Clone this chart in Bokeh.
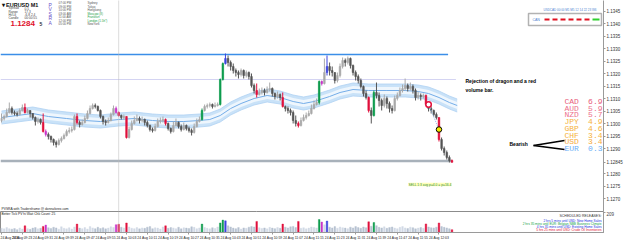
from bokeh.plotting import figure
from bokeh.models import (ColumnDataSource, Range1d, FixedTicker, Label, Span,
                          BoxAnnotation, NumeralTickFormatter)
from bokeh.layouts import column
from bokeh.embed import file_html
from bokeh.resources import INLINE
from bokeh.core.properties import value

# ---------------- DATA (EURUSD M1, 24 Aug 2016, from 09:15) ----------------
open_first = 1.13012
close = [1.13020, 1.13028, 1.13044, 1.13060, 1.13044, 1.13040, 1.13036, 1.13052, 1.13064, 1.13044,
         1.13052, 1.13040, 1.13024, 1.13008, 1.13016, 1.13004, 1.12968, 1.12956, 1.12948, 1.12936,
         1.12924, 1.12916, 1.12932, 1.12940, 1.12952, 1.12968, 1.12972, 1.12976, 1.13028, 1.13004,
         1.12996, 1.13004, 1.13020, 1.13040, 1.13060, 1.13072, 1.13068, 1.13052, 1.13028, 1.13008,
         1.13004, 1.13012, 1.13036, 1.13060, 1.13044, 1.13032, 1.13024, 1.13028, 1.12944, 1.12976,
         1.13000, 1.13012, 1.13020, 1.13012, 1.13016, 1.13004, 1.12992, 1.12976, 1.12972, 1.12988,
         1.13008, 1.13012, 1.13016, 1.13000, 1.12980, 1.12968, 1.12992, 1.13004, 1.12988, 1.12976,
         1.12992, 1.12980, 1.12972, 1.12964, 1.12988, 1.13008, 1.13016, 1.13052, 1.13068, 1.13072,
         1.13076, 1.13068, 1.13072, 1.13076, 1.13176, 1.13240, 1.13260, 1.13244, 1.13228, 1.13212,
         1.13204, 1.13196, 1.13212, 1.13192, 1.13204, 1.13188, 1.13152, 1.13132, 1.13116, 1.13124,
         1.13132, 1.13124, 1.13136, 1.13140, 1.13120, 1.13108, 1.13116, 1.13104, 1.13068, 1.13060,
         1.13052, 1.13044, 1.13012, 1.13000, 1.12992, 1.13012, 1.13024, 1.13032, 1.13040, 1.13060,
         1.13076, 1.13084, 1.13168, 1.13160, 1.13204, 1.13228, 1.13212, 1.13204, 1.13172, 1.13192,
         1.13228, 1.13252, 1.13244, 1.13260, 1.13232, 1.13204, 1.13188, 1.13172, 1.13148, 1.13120,
         1.13104, 1.13052, 1.13032, 1.13124, 1.13112, 1.13092, 1.13072, 1.13100, 1.13080, 1.13060,
         1.13052, 1.13100, 1.13112, 1.13132, 1.13140, 1.13152, 1.13140, 1.13148, 1.13132, 1.13104,
         1.13112, 1.13108, 1.13112, 1.13076, 1.13060, 1.13052, 1.13036, 1.13024, 1.12936, 1.12900,
         1.12884, 1.12864, 1.12852, 1.12845]
high = [1.13040, 1.13036, 1.13060, 1.13084, 1.13068, 1.13052, 1.13048, 1.13060, 1.13076, 1.13080,
        1.13060, 1.13052, 1.13040, 1.13028, 1.13024, 1.13020, 1.13040, 1.12976, 1.12964, 1.12952,
        1.12940, 1.12932, 1.12940, 1.12948, 1.12960, 1.12976, 1.12984, 1.12988, 1.13036, 1.13040,
        1.13012, 1.13016, 1.13032, 1.13052, 1.13072, 1.13080, 1.13080, 1.13072, 1.13056, 1.13032,
        1.13016, 1.13024, 1.13044, 1.13072, 1.13068, 1.13048, 1.13036, 1.13036, 1.13028, 1.12988,
        1.13012, 1.13028, 1.13036, 1.13028, 1.13028, 1.13020, 1.13012, 1.12996, 1.12984, 1.13000,
        1.13020, 1.13024, 1.13028, 1.13020, 1.13004, 1.12984, 1.13008, 1.13020, 1.13008, 1.12996,
        1.13004, 1.12996, 1.12988, 1.12980, 1.13000, 1.13020, 1.13028, 1.13060, 1.13076, 1.13080,
        1.13084, 1.13080, 1.13084, 1.13084, 1.13180, 1.13244, 1.13280, 1.13272, 1.13252, 1.13240,
        1.13220, 1.13212, 1.13220, 1.13216, 1.13212, 1.13208, 1.13200, 1.13160, 1.13160, 1.13140,
        1.13144, 1.13140, 1.13148, 1.13164, 1.13144, 1.13124, 1.13128, 1.13120, 1.13124, 1.13072,
        1.13068, 1.13060, 1.13052, 1.13032, 1.13008, 1.13024, 1.13036, 1.13044, 1.13052, 1.13076,
        1.13092, 1.13100, 1.13172, 1.13172, 1.13260, 1.13272, 1.13244, 1.13228, 1.13204, 1.13204,
        1.13240, 1.13264, 1.13260, 1.13268, 1.13264, 1.13236, 1.13212, 1.13196, 1.13180, 1.13152,
        1.13132, 1.13108, 1.13064, 1.13132, 1.13164, 1.13124, 1.13100, 1.13116, 1.13108, 1.13088,
        1.13072, 1.13112, 1.13124, 1.13144, 1.13156, 1.13180, 1.13160, 1.13164, 1.13156, 1.13140,
        1.13128, 1.13120, 1.13120, 1.13116, 1.13076, 1.13068, 1.13056, 1.13044, 1.13024, 1.12944,
        1.12908, 1.12892, 1.12872, 1.12856]
low = [1.13004, 1.13012, 1.13024, 1.13040, 1.13036, 1.13032, 1.13028, 1.13032, 1.13048, 1.13040,
       1.13040, 1.13024, 1.13016, 1.12992, 1.13000, 1.12996, 1.12964, 1.12948, 1.12936, 1.12924,
       1.12912, 1.12904, 1.12912, 1.12924, 1.12936, 1.12948, 1.12960, 1.12964, 1.12972, 1.12996,
       1.12984, 1.12992, 1.13000, 1.13016, 1.13036, 1.13056, 1.13060, 1.13048, 1.13020, 1.12996,
       1.12992, 1.13000, 1.13008, 1.13032, 1.13040, 1.13028, 1.13016, 1.13016, 1.12940, 1.12940,
       1.12972, 1.12996, 1.13008, 1.13000, 1.13004, 1.12992, 1.12984, 1.12968, 1.12964, 1.12968,
       1.12984, 1.13000, 1.13004, 1.12992, 1.12972, 1.12960, 1.12964, 1.12988, 1.12980, 1.12968,
       1.12972, 1.12972, 1.12964, 1.12952, 1.12960, 1.12984, 1.13004, 1.13012, 1.13048, 1.13060,
       1.13064, 1.13060, 1.13064, 1.13068, 1.13072, 1.13172, 1.13236, 1.13228, 1.13212, 1.13200,
       1.13188, 1.13180, 1.13188, 1.13180, 1.13184, 1.13176, 1.13144, 1.13120, 1.13104, 1.13112,
       1.13116, 1.13112, 1.13120, 1.13128, 1.13108, 1.13096, 1.13100, 1.13092, 1.13064, 1.13048,
       1.13040, 1.13032, 1.13000, 1.12988, 1.12984, 1.12988, 1.13008, 1.13016, 1.13028, 1.13036,
       1.13056, 1.13072, 1.13076, 1.13152, 1.13156, 1.13192, 1.13192, 1.13188, 1.13160, 1.13164,
       1.13184, 1.13220, 1.13228, 1.13236, 1.13220, 1.13192, 1.13172, 1.13160, 1.13140, 1.13108,
       1.13096, 1.13044, 1.13000, 1.13028, 1.13100, 1.13068, 1.13052, 1.13064, 1.13060, 1.13044,
       1.13040, 1.13048, 1.13092, 1.13108, 1.13124, 1.13132, 1.13128, 1.13132, 1.13120, 1.13092,
       1.13096, 1.13092, 1.13100, 1.13072, 1.13048, 1.13040, 1.13028, 1.13016, 1.12928, 1.12892,
       1.12872, 1.12856, 1.12844, 1.12844]
# tick volume per bar
volume = [45, 38, 52, 40, 35, 42, 30, 48, 36, 70,
          40, 33, 46, 52, 38, 44, 64, 78, 50, 42,
          55, 48, 35, 60, 44, 38, 50, 36, 58, 88,
          46, 40, 52, 36, 62, 48, 40, 55, 42, 50,
          38, 46, 60, 52, 82, 86, 55, 48, 100, 58,
          45, 40, 52, 38, 48, 44, 56, 62, 40, 50,
          46, 36, 58, 70, 44, 52, 48, 40, 55, 38,
          50, 46, 42, 60, 54, 40, 48, 88, 52, 44,
          38, 50, 42, 58, 100, 130, 122, 70, 58, 46,
          40, 52, 36, 48, 44, 56, 62, 58, 116, 50,
          42, 48, 38, 54, 46, 40, 52, 44, 88, 56,
          48, 60, 64, 52, 116, 44, 50, 38, 46, 58,
          52, 48, 136, 110, 80, 120, 56, 48, 62, 44,
          58, 50, 46, 40, 56, 48, 62, 52, 44, 58,
          50, 112, 66, 105, 72, 54, 48, 60, 44, 52,
          58, 46, 40, 54, 62, 48, 42, 56, 50, 38,
          46, 52, 44, 90, 58, 50, 48, 56, 100, 62,
          54, 48, 40, 30]
# PVSRA volume classes (bar indexes)
climax_bear = [9, 16, 29, 45, 48, 63, 98, 108, 114, 141, 163, 168, 173]
climax_bull = [77, 84, 85, 122, 143]
above_avg_bear = [17, 44, 123]
above_avg_bull = [86, 125]
# moving-average band (bar, centre price)
band_bar = [0, 6, 12, 18, 25, 32, 38, 45, 51, 58, 64, 70, 76, 80, 84, 88, 92, 97, 102, 107,
            112, 116, 120, 126, 130, 135, 141, 148, 155, 160, 164, 168, 172, 175]
band_mid = [1.13024, 1.13032, 1.13040, 1.13028, 1.13020, 1.13012, 1.13008, 1.13016, 1.13020, 1.13012,
            1.13008, 1.13008, 1.13012, 1.13016, 1.13032, 1.13060, 1.13080, 1.13100, 1.13112, 1.13104,
            1.13088, 1.13080, 1.13088, 1.13108, 1.13124, 1.13136, 1.13132, 1.13132, 1.13132, 1.13128,
            1.13120, 1.13104, 1.13084, 1.13072]
# horizontal levels: price, last bar
level_price = [1.13276, 1.13176, 1.12850]
level_end = [171.5, 174.5, 173.0]
# signal markers
signal_bar = [164, 168]
signal_price = [1.13076, 1.12976]
# price axis ticks
price_ticks = [1.1270, 1.1275, 1.1280, 1.1290, 1.1295, 1.1300, 1.1305,
               1.1310, 1.1315, 1.1320, 1.1325, 1.1330, 1.1335, 1.1340, 1.1345]
# time axis
time_tick_bars = [0, 8, 16, 24, 32, 40, 48, 56, 64, 72, 80, 88, 96, 104, 112, 120, 128, 136, 144, 152, 160, 168]
time_labels = ["24 Aug 2016", "24 Aug 09:23", "24 Aug 09:31", "24 Aug 09:39", "24 Aug 09:47",
               "24 Aug 09:55", "24 Aug 10:03", "24 Aug 10:11", "24 Aug 10:19", "24 Aug 10:27",
               "24 Aug 10:35", "24 Aug 10:43", "24 Aug 10:51", "24 Aug 10:59", "24 Aug 11:07",
               "24 Aug 11:15", "24 Aug 11:23", "24 Aug 11:31", "24 Aug 11:39", "24 Aug 11:47",
               "24 Aug 11:55", "24 Aug 12:03"]
session_start_bar = 45
# currency strength
currencies = ["CAD", "AUD", "NZD", "JPY", "GBP", "CHF", "USD", "EUR"]
strength = ["6.9", "5.9", "5.7", "4.9", "4.6", "3.4", "3.4", "0.3"]
cur_colors = ["#e8607c", "#ec6f8a", "#ec6f8a", "#f5b23c", "#f5b23c", "#f5b23c", "#f5aa3c", "#6aaef5"]
# sessions
sess_times = ["07:00 PM", "09:00 PM", "10:00 PM", "03:00 AM", "11:00 AM", "12:00 PM", "05:00 PM"]
sess_names = ["Sydney", "Tokyo", "Hongkong", "Moscow (8)", "Frankfurt", "London (1.5h*)", "NewYork"]
sess_colors = ["#555555", "#555555", "#555555", "#22a044", "#22a044", "#22a044", "#555555"]
releases = ["2 hrs 5 mins until USD: New Home Sales",
            "2 hrs 35 mins until EUR: Belgian NBB Business Climate",
            "4 hrs 35 mins until USD: Existing Home Sales",
            "5 hrs 25 mins until USD: Crude Oil Inventories"]
release_colors = ["#2030e0", "#10a040", "#2030e0", "#e01030"]

# ---------------- LAYOUT CONSTANTS ----------------
PX_PER_BAR = 2.604
X0_PX = 1.0
Y_TOP = 1.13492
PRICE_PER_PX = 0.00004
W = 625
RB = 22
FR = W - RB  # right edge of the plotting frame, px
MAIN_H = 211
VOL_H = 31
VOL_FRAME = 24
VOL_MAX = 220.0
FONT = "Liberation Sans"
GFONT = value("Liberation Sans")


def bx(px):
    return (px - X0_PX) / PX_PER_BAR


def py(px):
    return Y_TOP - PRICE_PER_PX * px


def vy(px):  # px measured from top of the volume panel
    return (VOL_FRAME - px) / VOL_FRAME * VOL_MAX


x_range = Range1d(bx(0), bx(FR))

# ---------------- MAIN PRICE PANEL ----------------
p = figure(width=W, height=MAIN_H, x_range=x_range,
           y_range=Range1d(Y_TOP - MAIN_H * PRICE_PER_PX, Y_TOP),
           output_backend="svg", toolbar_location=None, x_axis_location=None,
           y_axis_location="right", min_border_left=0, min_border_top=0,
           min_border_bottom=0, min_border_right=RB)
p.grid.visible = False
p.outline_line_color = None
p.background_fill_color = "white"
p.border_fill_color = "white"
ya = p.yaxis[0]
ya.ticker = FixedTicker(ticks=price_ticks + [close[-1]])
ya.formatter = NumeralTickFormatter(format="0.0000")
ya.major_label_overrides = {close[-1]: f"{close[-1]:.5f}"}
ya.major_label_text_font_size = "4.5px"
ya.major_label_text_font = FONT
ya.major_label_text_color = "#333333"
ya.major_label_standoff = 1
ya.major_tick_out = 2
ya.major_tick_in = 0
ya.minor_tick_out = 0
ya.minor_tick_in = 0
ya.axis_line_color = "#9a9a9a"
ya.major_tick_line_color = "#9a9a9a"

n = len(close)
idx = list(range(n))
opens = [open_first] + close[:-1]
special = {}
for i in climax_bear:
    special[i] = "#e0103c"
for i in climax_bull:
    special[i] = "#0e9c4e"
for i in above_avg_bear:
    special[i] = "#c935c9"
for i in above_avg_bull:
    special[i] = "#3d44de"
ccol, vcol = [], []
for i in idx:
    up = close[i] >= opens[i]
    ccol.append(special.get(i, "#a9a9a9" if up else "#555555"))
    vcol.append(special.get(i, "#d2dae6" if up else "#b7c2d1"))

# MA band
band_up = [m + 6.5 * PRICE_PER_PX for m in band_mid]
band_dn = [m - 6.5 * PRICE_PER_PX for m in band_mid]
in_up = [m + 3.5 * PRICE_PER_PX for m in band_mid]
in_dn = [m - 3.5 * PRICE_PER_PX for m in band_mid]
p.varea(x=band_bar, y1=band_dn, y2=band_up, fill_color="#c9e2f8")
p.varea(x=band_bar, y1=in_dn, y2=in_up, fill_color="#eef6fd")
p.line(band_bar, band_up, line_color="#b0d2f3", line_width=0.8)
p.line(band_bar, band_dn, line_color="#b0d2f3", line_width=0.8)
p.line(band_bar, band_mid, line_color="#74ade8", line_width=1)

# horizontal levels
lvl_colors = ["#3b8ee8", "#d4d4f2", "#a8b1ba"]
lvl_widths = [1.5, 1, 2.5]
p.segment(x0=[bx(0)] * 3, x1=level_end, y0=level_price, y1=level_price,
          line_color=lvl_colors, line_width=lvl_widths)

p.add_layout(Span(location=session_start_bar, dimension="height", line_color="#b8b8b8",
                  line_dash="1 1", line_width=1))

# candles
src = ColumnDataSource(dict(x=idx, o=opens, h=high, l=low, c=close,
                            top=[max(a, b) for a, b in zip(opens, close)],
                            bot=[min(a, b) for a, b in zip(opens, close)],
                            col=ccol))
p.segment(x0="x", x1="x", y0="l", y1="h", line_color="col", line_width=1, source=src)
p.vbar(x="x", top="top", bottom="bot", width=0.62, fill_color="col", line_color="col",
       line_width=0.6, source=src)

# signals
p.line(signal_bar, signal_price, line_color="#8fbbe8", line_dash="1 1", line_width=1)
p.scatter([signal_bar[0]], [signal_price[0]], marker="circle", size=5.5, fill_color="white",
          line_color="#e0103c", line_width=1.5)
p.scatter([signal_bar[1]], [signal_price[1]], marker="circle", size=5.5, fill_color="#f6ea00",
          line_color="black", line_width=1)

# info panel (top-left)
p.add_layout(Label(x=bx(1), y=py(4), text="\u25be EURUSD  M1", text_font=FONT,
                   text_font_size="5.5px", text_font_style="bold", text_color="#111111",
                   text_baseline="middle"))
info_keys = ["Spread", "Range", "Hi/Lo", "Candle"]
info_vals = ["0.5", "17.3", "-6.8  2.4", "00:00:55"]
for k, (a, b) in enumerate(zip(info_keys, info_vals)):
    p.add_layout(Label(x=bx(8), y=py(7.5 + 3.3 * k), text=a, text_font=FONT, text_font_size="3.2px",
                       text_color="#444444", text_baseline="middle"))
    p.add_layout(Label(x=bx(24), y=py(7.5 + 3.3 * k), text=b, text_font=FONT, text_font_size="3.2px",
                       text_color="#444444", text_baseline="middle"))
p.add_layout(Label(x=bx(10), y=py(22.5), text="1.1284", text_font=FONT, text_font_size="8px",
                   text_font_style="bold", text_color="#e0102a", text_baseline="middle"))
p.add_layout(Label(x=bx(39), y=py(23), text="5", text_font=FONT, text_font_size="5px",
                   text_font_style="bold", text_color="#333333", text_baseline="middle"))
for k, ch in enumerate("PVSRA"):
    p.add_layout(Label(x=bx(48), y=py(4 + 4.6 * k), text=ch, text_font=FONT, text_font_size="5px",
                       text_color="#6a4fc8", text_baseline="middle"))
sess_src = ColumnDataSource(dict(
    xt=[bx(58)] * len(sess_names), xn=[bx(87)] * len(sess_names),
    y=[py(2.5 + 3.5 * k) for k in range(len(sess_names))],
    t=sess_times, nme=sess_names, c=sess_colors))
p.text(x="xt", y="y", text="t", source=sess_src, text_font=GFONT, text_font_size="3px",
       text_color="#555555", text_baseline="middle")
p.text(x="xn", y="y", text="nme", source=sess_src, text_font=GFONT, text_font_size="3px",
       text_color="c", text_baseline="middle")

# top-right legend box
p.add_layout(Label(x=bx(543), y=py(9), text="USDCAD 00:00 M1 M5 12 14 22 23 W6", text_font=FONT,
                   text_font_size="3px", text_color="#4a7fd0", text_baseline="middle"))
p.add_layout(BoxAnnotation(left=bx(528), right=bx(FR - 2), top=py(13), bottom=py(25),
                           fill_alpha=0, line_color="black", line_width=1.5))
p.add_layout(Label(x=bx(532), y=py(19), text="CAN", text_font=FONT, text_font_size="3.5px",
                   text_color="#4a7fd0", text_baseline="middle"))
p.segment(x0=[bx(544)], x1=[bx(590)], y0=[py(19)], y1=[py(19)], line_color="#e01020",
          line_width=2, line_dash="5 3")
p.segment(x0=[bx(592)], x1=[bx(599)], y0=[py(19)], y1=[py(19)], line_color="#30d030", line_width=2)

# annotations
p.add_layout(Label(x=bx(465), y=py(80), text="Rejection of dragon and a red", text_font=FONT,
                   text_font_size="5px", text_font_style="bold", text_color="black",
                   text_baseline="middle"))
p.add_layout(Label(x=bx(465), y=py(89), text="volume bar.", text_font=FONT,
                   text_font_size="5px", text_font_style="bold", text_color="black",
                   text_baseline="middle"))
p.add_layout(Label(x=bx(509), y=py(143.5), text="Bearish", text_font=FONT,
                   text_font_size="5px", text_font_style="bold", text_color="black",
                   text_baseline="middle"))
p.segment(x0=[bx(533), bx(533)], x1=[bx(564), bx(564)], y0=[py(145), py(145)],
          y1=[py(140), py(149)], line_color="black", line_width=1.6)

cur_src = ColumnDataSource(dict(
    xc=[bx(564)] * len(currencies), xv=[bx(FR - 1)] * len(currencies),
    y=[py(101 + 6.7 * k) for k in range(len(currencies))],
    cur=currencies, val=strength, col=cur_colors))
p.text(x="xc", y="y", text="cur", source=cur_src, text_font=value("Liberation Mono"),
       text_font_size="8px", text_color="col", text_baseline="middle")
p.text(x="xv", y="y", text="val", source=cur_src, text_font=value("Liberation Mono"),
       text_font_size="8px", text_color="col", text_baseline="middle", text_align="right")

p.add_layout(Label(x=bx(408), y=py(184), text="SELL 1:3 avg p=4.0 = p=16.4", text_font=FONT,
                   text_font_size="3.3px", text_color="#2a8a3a", background_fill_color="#ffffb8",
                   text_baseline="middle"))
p.add_layout(Label(x=bx(1), y=py(208), text="PVSRA with Tradersframe @ donnaforex.com",
                   text_font=FONT, text_font_size="3.3px", text_color="#222222",
                   text_baseline="middle"))

# ---------------- VOLUME PANEL ----------------
v = figure(width=W, height=VOL_H, x_range=x_range, y_range=Range1d(0, VOL_MAX),
           output_backend="svg", toolbar_location=None, y_axis_location="right",
           min_border_left=0, min_border_top=0, min_border_bottom=VOL_H - VOL_FRAME,
           min_border_right=RB)
v.grid.visible = False
v.outline_line_color = "#8c8c8c"
v.background_fill_color = "white"
v.border_fill_color = "white"
v.vbar(x=idx, top=volume, width=0.62, fill_color=vcol, line_color=vcol, line_width=0.4)
v.add_layout(Span(location=session_start_bar, dimension="height", line_color="#b8b8b8",
                  line_dash="1 1", line_width=1))
xa = v.xaxis[0]
xa.ticker = FixedTicker(ticks=time_tick_bars)
xa.major_label_overrides = {b: t for b, t in zip(time_tick_bars, time_labels)}
xa.major_label_text_font_size = "3.4px"
xa.major_label_text_font = FONT
xa.major_label_text_align = "left"
xa.major_label_text_color = "#222222"
xa.major_label_standoff = 1
xa.major_tick_out = 2
xa.major_tick_in = 0
xa.minor_tick_out = 0
xa.minor_tick_in = 0
xa.axis_line_color = "#9a9a9a"
xa.major_tick_line_color = "#9a9a9a"
vya = v.yaxis[0]
vya.ticker = FixedTicker(ticks=[209])
vya.major_label_text_font_size = "4.5px"
vya.major_label_text_font = FONT
vya.major_label_standoff = 1
vya.major_tick_out = 2
vya.major_tick_in = 0
vya.minor_tick_out = 0
vya.minor_tick_in = 0
vya.axis_line_color = "#9a9a9a"
vya.major_tick_line_color = "#9a9a9a"

v.add_layout(Label(x=bx(1), y=vy(3), text="Better Tick PV hi    Wait Chk    Count: 25",
                   text_font=FONT, text_font_size="3.3px", text_color="#222222",
                   text_baseline="middle"))
v.add_layout(Label(x=bx(FR - 2), y=vy(5), text="SCHEDULED RELEASES:", text_font=FONT,
                   text_font_size="3.5px", text_color="#333333", text_baseline="middle",
                   text_align="right"))
rel_src = ColumnDataSource(dict(x=[bx(FR - 2)] * len(releases),
                                y=[vy(10.5 + 3.4 * k) for k in range(len(releases))],
                                t=releases, c=release_colors))
v.text(x="x", y="y", text="t", source=rel_src, text_font=GFONT, text_font_size="3.2px",
       text_color="c", text_baseline="middle", text_align="right")

layout = column(p, v, spacing=0)
open("out.html", "w").write(file_html(layout, INLINE))
